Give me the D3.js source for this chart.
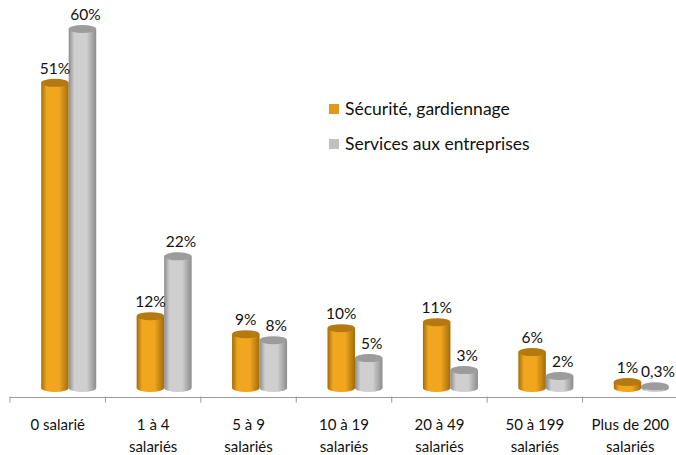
<!DOCTYPE html>
<html>
<head>
<meta charset="utf-8">
<script src="https://cdnjs.cloudflare.com/ajax/libs/d3/7.8.5/d3.min.js"></script>
<style>
  html, body { margin: 0; padding: 0; background: #fff; }
  text { font-family: Lato, "Open Sans", sans-serif; fill: #111; }
</style>
</head>
<body>
<script>
var categories = ["0 salarié", "1 à 4 salariés", "5 à 9 salariés", "10 à 19 salariés", "20 à 49 salariés", "50 à 199 salariés", "Plus de 200 salariés"];
var seriesNames = ["Sécurité, gardiennage", "Services aux entreprises"];
var securite = [51, 12, 9, 10, 11, 6, 1];
var services = [60, 22, 8, 5, 3, 2, 0.3];

var w = 676, h = 455, ry = 4;
var colors = [
  { key: "orange", legend: "#e09a1a", top: "#b47a10", edge: "#a36c0a", mid: "#f0a61e" },
  { key: "grey", legend: "#bfbfbf", top: "#9c9c9c", edge: "#8c8c8c", mid: "#cfcfcf" }
];

var svg = d3.select("body").append("svg").attr("width", w).attr("height", h).style("display", "block");

var x = d3.scaleBand().domain(categories).range([10, 678]);
var y = d3.scaleLinear().domain([0, 60]).range([388, 29]);
var inner = d3.scaleBand().domain([0, 1]).range([0, 55]);
var barX = function (d) { return x(d.cat) + x.bandwidth() / 2 + 11 - 27.5 + inner(d.s); };

// gradients for the cylinders
var defs = svg.append("defs");
colors.forEach(function (c) {
  var g = defs.append("linearGradient").attr("id", "grad-" + c.key);
  g.append("stop").attr("offset", "0%").attr("stop-color", c.edge);
  g.append("stop").attr("offset", "20%").attr("stop-color", c.mid);
  g.append("stop").attr("offset", "65%").attr("stop-color", c.mid);
  g.append("stop").attr("offset", "100%").attr("stop-color", c.edge);
});

// axis
var axisY = 397.5;
svg.append("line").attr("x1", x.range()[0]).attr("x2", x.range()[1]).attr("y1", axisY).attr("y2", axisY)
  .attr("stroke", "#9a9a9a").attr("stroke-width", 1.2);
var tickPos = categories.map(function (c) { return x(c); }).concat([x.range()[1]]);
svg.selectAll("line.tick").data(tickPos).enter().append("line").attr("class", "tick")
  .attr("x1", function (d) { return d; }).attr("x2", function (d) { return d; })
  .attr("y1", axisY - 1).attr("y2", axisY + 5)
  .attr("stroke", "#9a9a9a");

// category labels, wrapped in two lines
var splitLabel = function (c) {
  if (c.indexOf(" salariés") < 0) return [c];
  return [c.replace(" salariés", ""), "salariés"];
};
svg.selectAll("g.cat").data(categories).enter().append("g").attr("class", "cat")
  .each(function (c) {
    d3.select(this).selectAll("text").data(splitLabel(c)).enter().append("text")
      .attr("x", x(c) + x.bandwidth() / 2)
      .attr("y", function (d, i) { return 430 + i * 22; })
      .attr("text-anchor", "middle")
      .attr("font-size", 15)
      .text(function (d) { return d; });
  });

// cylinders
var rows = [];
categories.forEach(function (c, i) {
  rows.push({ cat: c, s: 0, v: securite[i] });
  rows.push({ cat: c, s: 1, v: services[i] });
});
rows.sort(function (a, b) { return a.s - b.s; });

var bars = svg.selectAll("g.bar").data(rows).enter().append("g").attr("class", "bar");
bars.append("path")
  .attr("d", function (d) {
    var x0 = barX(d), bw = inner.bandwidth(), rx = bw / 2;
    return "M" + x0 + "," + y(d.v) + "L" + x0 + "," + y(0) +
      "A" + rx + "," + ry + " 0 0 0 " + (x0 + bw) + "," + y(0) +
      "L" + (x0 + bw) + "," + y(d.v) + "Z";
  })
  .attr("fill", function (d) { return "url(#grad-" + colors[d.s].key + ")"; });
bars.append("ellipse")
  .attr("cx", function (d) { return barX(d) + inner.bandwidth() / 2; })
  .attr("cy", function (d) { return y(d.v); })
  .attr("rx", inner.bandwidth() / 2)
  .attr("ry", ry)
  .attr("fill", function (d) { return colors[d.s].top; });

// value labels
var labelFmt = function (v) { return String(v).replace(".", ",") + "%"; };
svg.selectAll("text.value").data(rows).enter().append("text").attr("class", "value")
  .attr("x", function (d) { return barX(d) + inner.bandwidth() / 2 + (d.s === 0 ? 0 : 3); })
  .attr("y", function (d) { return y(d.v) - 9; })
  .attr("text-anchor", "middle")
  .attr("font-size", 15.5)
  .text(function (d) { return labelFmt(d.v); });

// legend
var legend = svg.selectAll("g.legend").data(seriesNames).enter().append("g").attr("class", "legend")
  .attr("transform", function (d, i) { return "translate(329," + (104 + i * 35) + ")"; });
legend.append("rect").attr("width", 10).attr("height", 10)
  .attr("fill", function (d, i) { return colors[i].legend; });
legend.append("text").attr("x", 16).attr("y", 11).attr("font-size", 17.5)
  .text(function (d) { return d; });
</script>
</body>
</html>
